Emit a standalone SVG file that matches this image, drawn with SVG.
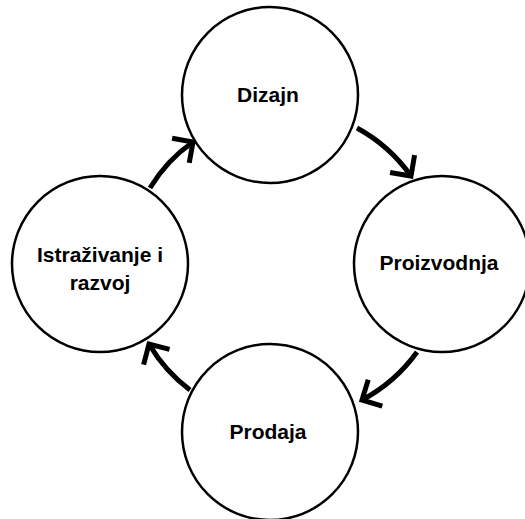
<svg xmlns="http://www.w3.org/2000/svg" width="525" height="519" viewBox="0 0 525 519">
<style>
.node circle{fill:#fff;stroke:#000;stroke-width:2.5}
.node text{font-family:"Liberation Sans",Arial,sans-serif;font-weight:bold;font-size:21px;fill:#000;text-anchor:middle}
.conn path{fill:none;stroke:#000;stroke-width:5}
</style>
<defs>
<marker id="ah" markerUnits="userSpaceOnUse" markerWidth="40" markerHeight="40" viewBox="-20 -20 40 40" refX="0" refY="0" orient="auto" overflow="visible">
<path d="M-15,-15 L0,0 L-15,15" fill="none" stroke="#000" stroke-width="5" stroke-linejoin="miter"/>
</marker>
</defs>
<g id="n-dizajn" class="node"><circle cx="270" cy="95" r="88"/><text x="268" y="102">Dizajn</text></g>
<g id="n-proizvodnja" class="node"><circle cx="442" cy="264" r="88"/><text x="439" y="270">Proizvodnja</text></g>
<g id="n-prodaja" class="node"><circle cx="270" cy="432" r="88"/><text x="268" y="439">Prodaja</text></g>
<g id="n-istrazivanje" class="node"><circle cx="100" cy="264" r="88"/><text x="100" y="262">Istraživanje i</text><text x="100" y="290">razvoj</text></g>
<g id="connectors" class="conn">
<path d="M357,128 A160,160 0 0,1 411,176" marker-end="url(#ah)"/>
<path d="M417,352 A160,160 0 0,1 362,400" marker-end="url(#ah)"/>
<path d="M190,390 A155,155 0 0,1 149,344" marker-end="url(#ah)"/>
<path d="M150,188 A150,150 0 0,1 193,142" marker-end="url(#ah)"/>
</g>
</svg>
